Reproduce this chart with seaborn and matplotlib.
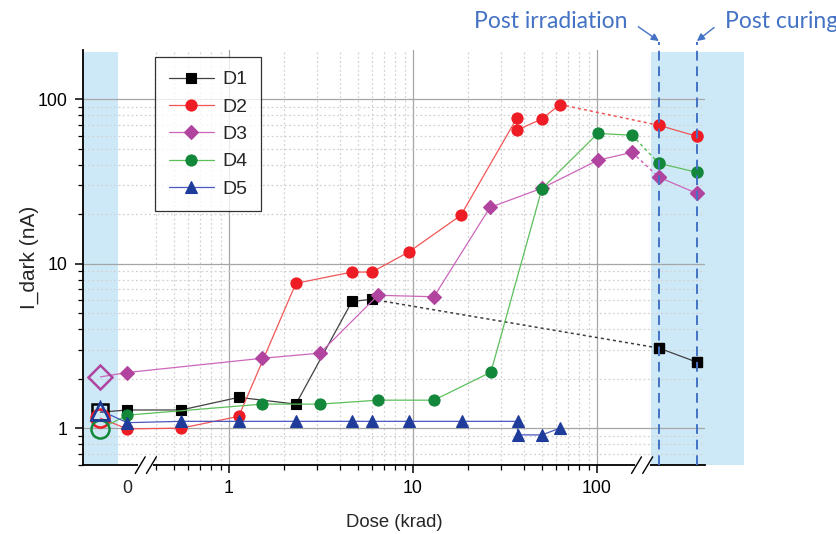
import numpy as np
import matplotlib
matplotlib.use("Agg")
import matplotlib.pyplot as plt
import matplotlib.transforms as mtransforms
from matplotlib.ticker import FixedLocator, NullFormatter, FixedFormatter
import seaborn as sns

# ---- data ----
devices = ["D1", "D2", "D3", "D4", "D5"]

# positions used for the non-numeric states on the broken x axis
X_PRE = 0.20
X_ZERO = 0.28
X_POST_IRR = 217
X_POST_CURE = 349

pre_vals = [1.25, 1.15, 2.05, 0.99, 1.28]
zero_vals = [1.29, 0.99, 2.18, 1.20, 1.08]

d1_dose = [0.55, 1.13, 2.31, 4.66, 5.98]
d1_val = [1.29, 1.54, 1.40, 5.9, 6.08]
d2_dose = [0.55, 1.13, 2.31, 4.66, 5.98, 9.5, 18.2, 36.7, 36.7, 50.2, 62.9]
d2_val = [1.0, 1.18, 7.6, 8.9, 8.9, 11.8, 19.7, 77, 65, 76, 93]
d3_dose = [1.51, 3.12, 6.45, 13.0, 26.2, 50.2, 101, 155]
d3_val = [2.66, 2.86, 6.43, 6.3, 22, 28.8, 42.6, 47.6]
d4_dose = [1.51, 3.12, 6.45, 13.0, 26.5, 50.2, 101, 155]
d4_val = [1.40, 1.40, 1.48, 1.48, 2.19, 28.6, 62, 60.5]
d5_dose = [0.55, 1.13, 2.31, 4.66, 5.98, 9.5, 18.5, 37, 37, 50.2, 62.9]
d5_val = [1.1, 1.1, 1.1, 1.1, 1.1, 1.1, 1.1, 1.1, 0.91, 0.91, 1.0]

post_irr_vals = [3.07, 69.5, 33.6, 40.8, np.nan]
post_cure_vals = [2.52, 59.6, 26.8, 36.0, np.nan]

doses = [d1_dose, d2_dose, d3_dose, d4_dose, d5_dose]
values = [d1_val, d2_val, d3_val, d4_val, d5_val]

marker_styles = ["s", "o", "D", "o", "^"]
marker_colors = ["#000000", "#ee1c24", "#b0449f", "#13873a", "#1f3c9a"]
line_colors = ["#404040", "#f25555", "#cc66bb", "#5cbf5c", "#4a58c0"]
marker_sizes = [7, 8, 7, 8, 8]

shade = "#cde9f7"
note_blue = "#4472c4"

sns.set_theme(style="white")
plt.rcParams["font.family"] = ["Liberation Sans", "DejaVu Sans"]

fig = plt.figure(figsize=(8.37, 5.34), dpi=100)
ax = fig.add_axes([0.0992, 0.129, 0.743, 0.777])
ax.set_xscale("log")
ax.set_yscale("log")
ax.set_xlim(0.161, 386)
ax.set_ylim(0.596, 199)

# shaded regions: before irradiation and after irradiation
ax.axvspan(0.161, 0.249, ymax=0.995, color=shade, lw=0, zorder=0)
ax.axvspan(196, 629, ymax=0.995, color=shade, lw=0, zorder=0, clip_on=False)

for i, name in enumerate(devices):
    mc, lc, mk, ms = marker_colors[i], line_colors[i], marker_styles[i], marker_sizes[i]
    # pre-irradiation (open marker) to zero dose
    ax.plot([X_PRE, X_ZERO], [pre_vals[i], zero_vals[i]], color=lc, lw=0.9, zorder=3)
    ax.plot([X_PRE], [pre_vals[i]], marker=mk, ms=ms + 5, mfc="none", mec=mc,
            mew=1.8, ls="none", zorder=4)
    # dose sweep
    xs = [X_ZERO] + doses[i]
    ys = [zero_vals[i]] + values[i]
    sns.lineplot(x=xs, y=ys, ax=ax, sort=False, estimator=None, color=lc, lw=0.9,
                 marker=mk, markersize=ms, markerfacecolor=mc, markeredgecolor=mc,
                 markeredgewidth=0.8, label=name, zorder=4)
    # post irradiation and post curing
    if not np.isnan(post_irr_vals[i]):
        ax.plot([doses[i][-1], X_POST_IRR], [values[i][-1], post_irr_vals[i]],
                color=lc, lw=1.1, ls=(0, (2, 2)), zorder=3)
        ax.plot([X_POST_IRR, X_POST_CURE], [post_irr_vals[i], post_cure_vals[i]],
                color=lc, lw=0.9, marker=mk, ms=ms, mfc=mc, mec=mc, zorder=4)

# ticks and grid
ax.xaxis.set_major_locator(FixedLocator([1, 10, 100]))
ax.xaxis.set_major_formatter(FixedFormatter(["1", "10", "100"]))
x_minor = [0.4, 0.5, 0.6, 0.7, 0.8, 0.9, 2, 3, 4, 5, 6, 7, 8, 9,
           20, 30, 40, 50, 60, 70, 80, 90]
ax.xaxis.set_minor_locator(FixedLocator(x_minor))
ax.xaxis.set_minor_formatter(NullFormatter())
ax.yaxis.set_major_locator(FixedLocator([1, 10, 100]))
ax.yaxis.set_major_formatter(FixedFormatter(["1", "10", "100"]))
ax.yaxis.set_minor_formatter(NullFormatter())

ax.tick_params(which="major", direction="out", length=6, width=1.1, colors="black",
               labelsize=12.8, left=True, bottom=True, pad=5)
ax.tick_params(which="minor", direction="out", length=3.5, width=0.9, colors="black",
               left=True, bottom=True)
ax.grid(which="major", color="#a6a6a6", lw=0.9, zorder=1)
ax.grid(which="minor", color="#d2d2d2", lw=0.9, ls=(0, (1.5, 2)), zorder=1)
ax.set_axisbelow(True)

for side in ["top", "right"]:
    ax.spines[side].set_visible(False)
for side in ["left", "bottom"]:
    ax.spines[side].set_color("black")
    ax.spines[side].set_linewidth(1.3)

# the "0" label of the broken axis
blend = mtransforms.blended_transform_factory(ax.transData, ax.transAxes)
ax.text(X_ZERO, -0.035, "0", transform=blend, ha="center", va="top", fontsize=12.8)

# axis break marks
for xc in [0.101, 0.899]:
    ax.plot([xc - 0.009, xc + 0.009], [0, 0], color="white", lw=3,
            transform=ax.transAxes, clip_on=False, zorder=6)
    for dx in [-0.009, 0.009]:
        ax.plot([xc + dx - 0.008, xc + dx + 0.008], [-0.02, 0.02], color="black",
                lw=1.0, transform=ax.transAxes, clip_on=False, zorder=7)

# post irradiation / post curing markers
for xv in [X_POST_IRR, X_POST_CURE]:
    ax.plot([xv, xv], [0, 1.02], color=note_blue, lw=1.4, ls=(0, (5, 3)),
            transform=blend, clip_on=False, zorder=5)
ax.annotate("Post irradiation", xy=(X_POST_IRR, 1.022), xycoords=blend,
            xytext=(627, 513), textcoords="figure pixels", ha="right", va="center",
            fontsize=16.5, color=note_blue, family=["Lato", "DejaVu Sans"],
            arrowprops=dict(arrowstyle="-|>", color=note_blue, lw=1.0,
                            relpos=(1, 0.6), shrinkA=7, shrinkB=0,
                            mutation_scale=11))
ax.annotate("Post curing", xy=(X_POST_CURE, 1.022), xycoords=blend,
            xytext=(725, 513), textcoords="figure pixels", ha="left", va="center",
            fontsize=16.5, color=note_blue, family=["Lato", "DejaVu Sans"],
            arrowprops=dict(arrowstyle="-|>", color=note_blue, lw=1.0,
                            relpos=(0, 0.6), shrinkA=7, shrinkB=0,
                            mutation_scale=11))

ax.set_xlabel("Dose (krad)", fontsize=13.3, labelpad=12)
ax.set_ylabel("I_dark (nA)", fontsize=15, labelpad=-1)

leg = ax.legend(loc="upper left", bbox_to_anchor=(0.116, 0.983), borderaxespad=0,
                fontsize=14, frameon=True, fancybox=False, handlelength=2.3,
                handletextpad=0.45, labelspacing=0.5, borderpad=0.7)
leg.get_frame().set_edgecolor("black")
leg.get_frame().set_linewidth(0.9)

fig.savefig("out.png", dpi=100)
